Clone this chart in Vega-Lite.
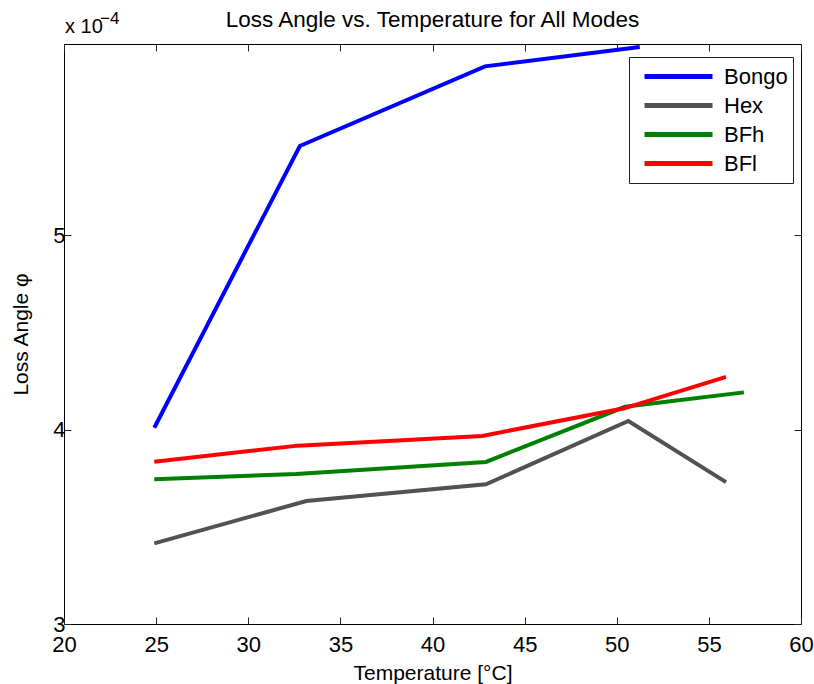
{
  "$schema": "https://vega.github.io/schema/vega-lite/v6.json",
  "width": 737,
  "height": 580,
  "autosize": "none",
  "padding": {"left": 64, "top": 44, "right": 13, "bottom": 60},
  "background": "white",
  "config": {
    "font": "Liberation Sans",
    "view": {"stroke": "black", "strokeWidth": 1},
    "axis": {"labelColor": "black", "titleColor": "black", "tickColor": "#222", "domain": false, "grid": false, "labelFont": "Liberation Sans", "titleFont": "Liberation Sans", "titleFontWeight": "normal"}
  },
  "title": {
    "text": "Loss Angle vs. Temperature for All Modes",
    "fontSize": 22.5,
    "fontWeight": "normal",
    "color": "black",
    "anchor": "middle",
    "baseline": "alphabetic",
    "offset": 17,
    "dy": 56
  },
  "data": {
    "values": [
      {"mode": "Bongo", "temp": 24.9, "loss": 4.01},
      {"mode": "Bongo", "temp": 32.8, "loss": 5.46},
      {"mode": "Bongo", "temp": 42.85, "loss": 5.87},
      {"mode": "Bongo", "temp": 51.25, "loss": 5.97},
      {"mode": "Hex", "temp": 24.9, "loss": 3.415},
      {"mode": "Hex", "temp": 33.15, "loss": 3.633},
      {"mode": "Hex", "temp": 42.9, "loss": 3.719},
      {"mode": "Hex", "temp": 50.63, "loss": 4.045},
      {"mode": "Hex", "temp": 55.93, "loss": 3.73},
      {"mode": "BFh", "temp": 24.9, "loss": 3.745},
      {"mode": "BFh", "temp": 32.6, "loss": 3.772},
      {"mode": "BFh", "temp": 42.9, "loss": 3.834},
      {"mode": "BFh", "temp": 50.45, "loss": 4.118},
      {"mode": "BFh", "temp": 56.9, "loss": 4.192},
      {"mode": "BFl", "temp": 24.9, "loss": 3.835},
      {"mode": "BFl", "temp": 32.7, "loss": 3.918},
      {"mode": "BFl", "temp": 42.7, "loss": 3.968},
      {"mode": "BFl", "temp": 50.4, "loss": 4.11},
      {"mode": "BFl", "temp": 55.93, "loss": 4.272}
    ]
  },
  "layer": [
    {
      "mark": {"type": "line", "strokeWidth": 4, "clip": true},
      "encoding": {
        "x": {
          "field": "temp", "type": "quantitative",
          "scale": {"domain": [20, 60], "nice": false, "zero": false},
          "axis": {"orient": "bottom", "values": [20, 25, 30, 35, 40, 45, 50, 55, 60], "tickSize": -7, "labelFontSize": 22, "labelPadding": 17, "labelFlush": false, "title": "Temperature [°C]", "titleFontSize": 21, "titleBaseline": "alphabetic", "titleY": 55}
        },
        "y": {
          "field": "loss", "type": "quantitative",
          "scale": {"domain": [3, 5.985], "nice": false, "zero": false},
          "axis": {"orient": "left", "values": [3, 4, 5], "tickSize": -7, "labelFontSize": 22, "labelPadding": 6, "labelFlush": false, "title": "Loss Angle φ", "titleFontSize": 21, "titleBaseline": "alphabetic", "titleX": -37}
        },
        "color": {
          "field": "mode", "type": "nominal",
          "scale": {"domain": ["Bongo", "Hex", "BFh", "BFl"], "range": ["#0000FF", "#525252", "#008000", "#FF0000"]},
          "legend": {
            "title": null, "orient": "none", "legendX": 565, "legendY": 13,
            "strokeColor": "#222", "fillColor": "white", "padding": 5,
            "symbolType": "stroke", "symbolSize": 4624, "symbolStrokeWidth": 5,
            "symbolOffset": 8, "labelFontSize": 22, "labelColor": "black", "labelOffset": 9,
            "clipHeight": 29, "rowPadding": 0
          }
        }
      }
    },
    {
      "mark": {"type": "line", "opacity": 0},
      "encoding": {
        "x": {
          "field": "temp", "type": "quantitative",
          "scale": {"domain": [20, 60], "nice": false, "zero": false},
          "axis": {"orient": "top", "values": [20, 25, 30, 35, 40, 45, 50, 55, 60], "tickSize": -7, "labels": false, "title": null}
        },
        "y": {
          "field": "loss", "type": "quantitative",
          "scale": {"domain": [3, 5.985], "nice": false, "zero": false},
          "axis": {"orient": "right", "values": [3, 4, 5], "tickSize": -7, "labels": false, "title": null}
        }
      }
    },
    {
      "data": {"values": [{"label": "x 10"}]},
      "mark": {"type": "text", "align": "left", "baseline": "alphabetic", "fontSize": 20, "color": "black", "dx": 1, "dy": -11},
      "encoding": {
        "x": {"datum": 20, "type": "quantitative", "axis": null},
        "y": {"datum": 5.985, "type": "quantitative", "axis": null},
        "text": {"field": "label"}
      }
    },
    {
      "data": {"values": [{"label": "−4"}]},
      "mark": {"type": "text", "align": "left", "baseline": "alphabetic", "fontSize": 17, "color": "black", "dx": 36, "dy": -20},
      "encoding": {
        "x": {"datum": 20, "type": "quantitative", "axis": null},
        "y": {"datum": 5.985, "type": "quantitative", "axis": null},
        "text": {"field": "label"}
      }
    }
  ],
  "resolve": {"axis": {"x": "independent", "y": "independent"}}
}
